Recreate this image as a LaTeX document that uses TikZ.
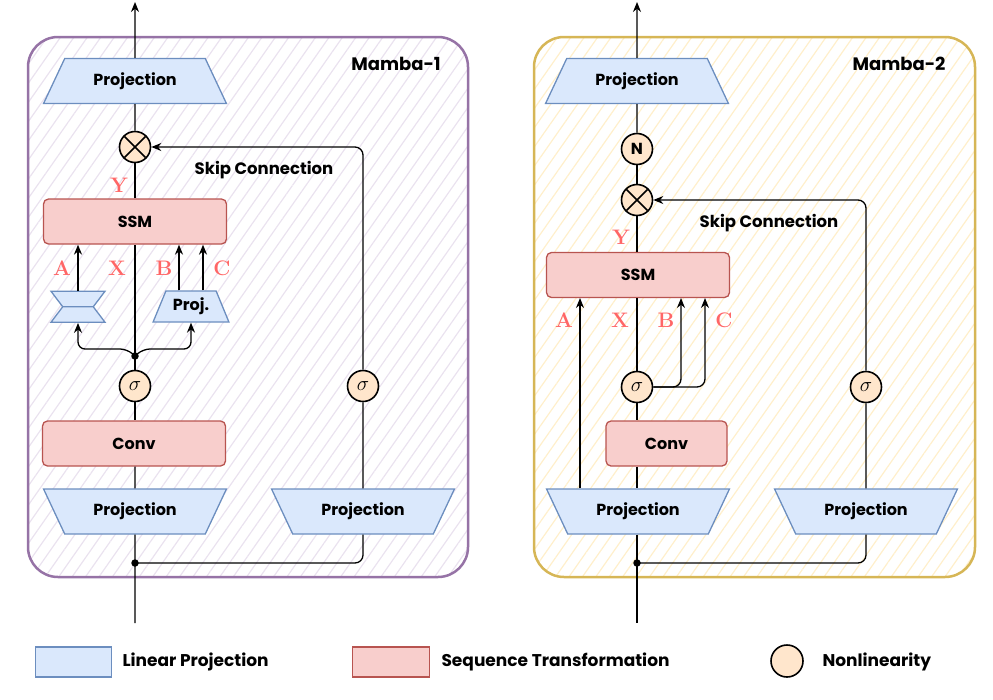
\documentclass[tikz,border=0pt]{standalone}
\usepackage{fontspec}
\newfontfamily\sketchfont{Poppins}
\newcommand{\sketchtext}{\sketchfont\bfseries\fontsize{16}{19}\selectfont}
\newcommand{\keytext}{\sketchfont\bfseries\fontsize{17}{20}\selectfont}
\usetikzlibrary{shapes.geometric, arrows.meta, patterns.meta}
\definecolor{projfill}{HTML}{DAE8FC}
\definecolor{projline}{HTML}{6C8EBF}
\definecolor{seqfill}{HTML}{F8CECC}
\definecolor{seqline}{HTML}{B85450}
\definecolor{nlfill}{HTML}{FFE6CC}
\definecolor{labred}{HTML}{FF6666}
\definecolor{boxone}{HTML}{9673A6}
\definecolor{hatchone}{HTML}{EAE2EF}
\definecolor{boxtwo}{HTML}{D6B656}
\definecolor{hatchtwo}{HTML}{FFEFCB}
\begin{document}
\begin{tikzpicture}[x = 1pt, y = -1pt,
    proj/.style = {trapezium, trapezium angle = 56, trapezium stretches = true,
      minimum width = 183pt, minimum height = 45pt, inner sep = 1pt,
      fill = projfill, draw = projline, line width = 1.3pt, font = \sketchtext},
    seq/.style = {rectangle, rounded corners = 5pt, fill = seqfill,
      draw = seqline, line width = 1.3pt, minimum width = 183pt,
      minimum height = 45pt, font = \sketchtext},
    nonlin/.style = {circle, fill = nlfill, draw, line width = 1.6pt,
      minimum size = 31pt, inner sep = 0pt},
    lab/.style = {text = labred, font = \bfseries\fontsize{21}{21}\selectfont},
    junction/.style = {circle, fill, inner sep = 0pt, minimum size = 7.5pt},
    wire/.style = {line width = 1.3pt},
    arr/.style = {wire, -{Stealth[length = 10pt, width = 8pt]}}]
      \useasboundingbox (0,0) rectangle (993,699);
      % containers
      \draw [pattern = {Lines[angle = 55, distance = 11pt, line width = 1.2pt]},
        pattern color = hatchone, draw = boxone, line width = 2.5pt,
        rounded corners = 30pt] (28,37) rectangle (468,577);
      \draw [pattern = {Lines[angle = 55, distance = 11pt, line width = 1.2pt]},
        pattern color = hatchtwo, draw = boxtwo, line width = 2.5pt,
        rounded corners = 30pt] (534,37) rectangle (975,577);
      \node [font = \sketchfont\bfseries\fontsize{18}{20}\selectfont] (titleone) at (396,64) {Mamba-1};
      \node [font = \sketchfont\bfseries\fontsize{18}{20}\selectfont] (titletwo) at (899,64) {Mamba-2};

      % Mamba-1
      \node [proj] (projtop1) at (135,81) {Projection};
      \node [nonlin] (mul1) at (135,147) {};
      \draw [line width = 1.6pt] ([shift = {(-1,1)}]mul1.north east) -- ([shift = {(1,-1)}]mul1.south west)
        ([shift = {(1,1)}]mul1.north west) -- ([shift = {(-1,-1)}]mul1.south east);
      \node [seq] (ssm1) at (135,221.5) {SSM};
      \node [trapezium, trapezium angle = 69, trapezium stretches = true,
        shape border rotate = 180, minimum width = 54pt, minimum height = 15.5pt,
        inner sep = 1pt, fill = projfill, draw = projline, line width = 1.3pt]
        (hga1) at (78,299) {};
      \node [trapezium, trapezium angle = 69, trapezium stretches = true,
        minimum width = 54pt, minimum height = 15.5pt,
        inner sep = 1pt, fill = projfill, draw = projline, line width = 1.3pt]
        (hgb1) at (78,314.5) {};
      \node [proj, trapezium angle = 63, minimum width = 76pt,
        minimum height = 31pt] (small1) at (191,306.5) {Proj.};
      \node [junction] (fork1) at (135,356) {};
      \node [nonlin] (act1) at (135,386) {\fontsize{20}{20}\selectfont$\sigma$};
      \node [seq] (conv1) at (134,443.5) {Conv};
      \node [proj, shape border rotate = 180] (projin1) at (135,511.5) {Projection};
      \node [proj, shape border rotate = 180] (projgate1) at (363,511.5) {Projection};
      \node [nonlin] (gate1) at (363,386) {\fontsize{20}{20}\selectfont$\sigma$};
      \node [junction] (split1) at (135,563) {};
      \coordinate (out1) at (135,2);
      \coordinate (in1) at (135,623);

      \draw [arr] (projtop1.north) -- (out1);
      \draw [wire] (mul1.north) -- (projtop1.south);
      \draw [wire] (ssm1.north) -- (mul1.south);
      \draw [wire] (act1.north) -- (ssm1.south);
      \draw [arr] (hga1.north) -- (hga1.north |- ssm1.south);
      \draw [arr] ([xshift = -12pt]small1.north) -- ([xshift = -12pt]small1.north |- ssm1.south);
      \draw [arr] ([xshift = 12pt]small1.north) -- ([xshift = 12pt]small1.north |- ssm1.south);
      \draw [arr, rounded corners = 7pt] (fork1.center) -- (127,349) -| (hgb1.south);
      \draw [arr, rounded corners = 7pt] (fork1.center) -- (143,349) -| (small1.south);
      \draw [wire] (act1.south) -- (act1.south |- conv1.north);
      \draw [wire] (act1.south |- conv1.south) -- (projin1.north);
      \draw [wire] (projin1.south) -- (in1);
      \draw [wire, rounded corners = 8pt] (projgate1.south) |- (split1.center);
      \draw [wire] (projgate1.north) -- (gate1.south);
      \draw [arr, rounded corners = 8pt] (gate1.north) |- (mul1.east);
      \node [font = \sketchfont\bfseries\fontsize{16.5}{19}\selectfont] (skip1) at (264,170) {Skip Connection};
      \node [lab] (y1) at (119,185) {Y};
      \node [lab] (a1) at (62,268) {A};
      \node [lab] (x1) at (117,268) {X};
      \node [lab] (b1) at (164,268) {B};
      \node [lab] (c1) at (222,268) {C};

      % Mamba-2
      \node [proj] (projtop2) at (637,81) {Projection};
      \node [nonlin, font = \sketchtext] (norm2) at (637,149) {N};
      \node [nonlin] (mul2) at (637,200) {};
      \draw [line width = 1.6pt] ([shift = {(-1,1)}]mul2.north east) -- ([shift = {(1,-1)}]mul2.south west)
        ([shift = {(1,1)}]mul2.north west) -- ([shift = {(-1,-1)}]mul2.south east);
      \node [seq] (ssm2) at (638,275) {SSM};
      \node [nonlin] (act2) at (637,387) {\fontsize{20}{20}\selectfont$\sigma$};
      \node [seq, minimum width = 121pt] (conv2) at (666.5,443.5) {Conv};
      \node [proj, shape border rotate = 180] (projin2) at (638,511.5) {Projection};
      \node [proj, shape border rotate = 180] (projgate2) at (866,511.5) {Projection};
      \node [nonlin] (gate2) at (866,387) {\fontsize{20}{20}\selectfont$\sigma$};
      \node [junction] (split2) at (637,563) {};
      \coordinate (out2) at (637,2);
      \coordinate (in2) at (637,623);
      \coordinate (ina2) at (580,298);
      \coordinate (inb2) at (681,298);
      \coordinate (inc2) at (705,298);

      \draw [arr] (projtop2.north) -- (out2);
      \draw [wire] (norm2.north) -- (projtop2.south);
      \draw [wire] (mul2.north) -- (norm2.south);
      \draw [wire] (ssm2.north -| mul2) -- (mul2.south);
      \draw [wire] (act2.north) -- (act2.north |- ssm2.south);
      \draw [arr] (ina2 |- projin2.north) -- (ina2);
      \draw [arr, rounded corners = 8pt] (act2.east) -| (inb2);
      \draw [arr, rounded corners = 8pt] (act2.east) -| (inc2);
      \draw [wire] (act2.south) -- (act2.south |- conv2.north);
      \draw [wire] (act2.south |- conv2.south) -- (act2.south |- projin2.north);
      \draw [wire] (projin2.south -| act2) -- (in2);
      \draw [wire, rounded corners = 8pt] (projgate2.south) |- (split2.center);
      \draw [wire] (projgate2.north) -- (gate2.south);
      \draw [arr, rounded corners = 8pt] (gate2.north) |- (mul2.east);
      \node [font = \sketchfont\bfseries\fontsize{16.5}{19}\selectfont] (skip2) at (769,223) {Skip Connection};
      \node [lab] (y2) at (621,237) {Y};
      \node [lab] (a2) at (564,320) {A};
      \node [lab] (x2) at (620,320) {X};
      \node [lab] (b2) at (666,320) {B};
      \node [lab] (c2) at (724,320) {C};

      % legend
      \node [rectangle, fill = projfill, draw = projline, line width = 1.3pt,
        minimum width = 76pt, minimum height = 30pt] (keyproj) at (73.5,662) {};
      \node [font = \keytext, anchor = west] (keyprojtext) at (119,662) {Linear Projection};
      \node [rectangle, fill = seqfill, draw = seqline, line width = 1.3pt,
        minimum width = 77pt, minimum height = 30pt] (keyseq) at (391,662) {};
      \node [font = \keytext, anchor = west] (keyseqtext) at (438,662) {Sequence Transformation};
      \node [nonlin, minimum size = 32pt] (keynl) at (787,661) {};
      \node [font = \keytext, anchor = west] (keynltext) at (819,662) {Nonlinearity};
\end{tikzpicture}
\end{document}
